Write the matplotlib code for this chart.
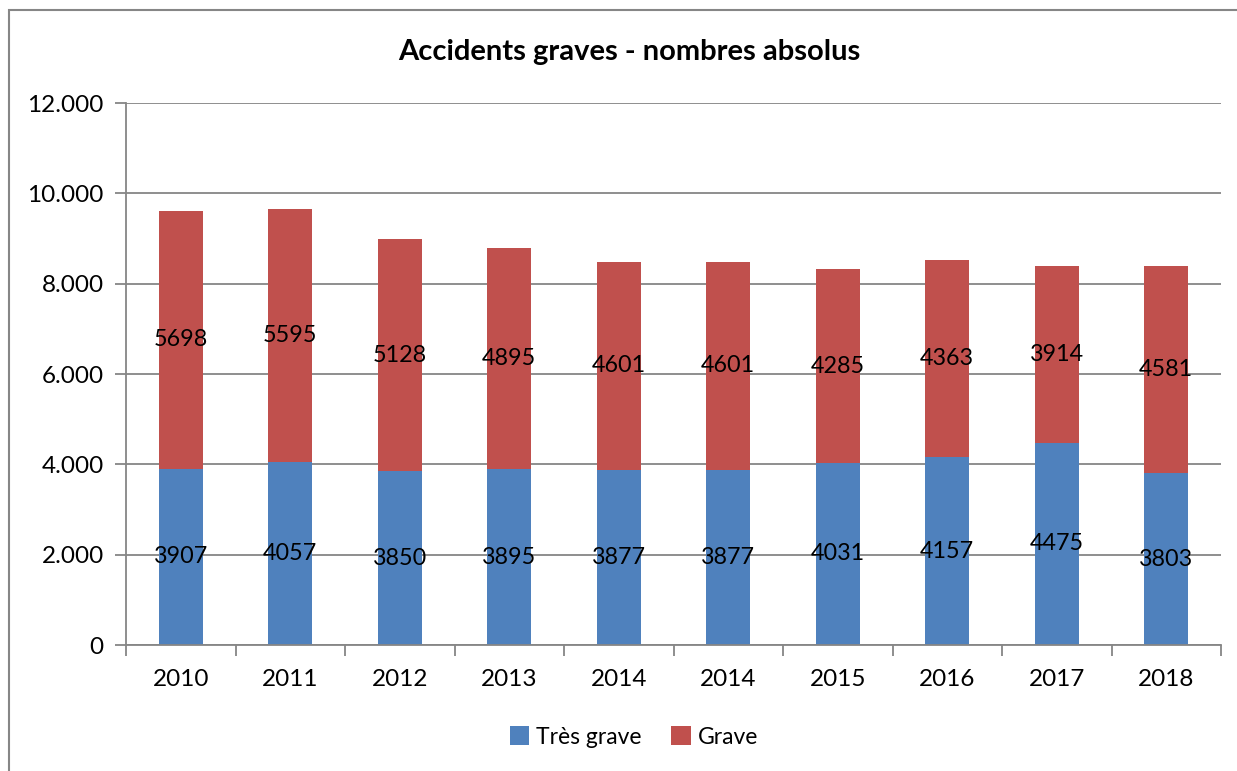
import numpy as np
import matplotlib.pyplot as plt
from matplotlib.patches import Rectangle

plt.rcParams['font.family'] = ['Lato', 'DejaVu Sans']

annees = ['2010', '2011', '2012', '2013', '2014', '2014', '2015', '2016', '2017', '2018']
tres_grave = [3907, 4057, 3850, 3895, 3877, 3877, 4031, 4157, 4475, 3803]
grave = [5698, 5595, 5128, 4895, 4601, 4601, 4285, 4363, 3914, 4581]

bleu = '#4F81BD'
rouge = '#C0504D'
gris = '#868686'

W, H = 1237, 771
fig = plt.figure(figsize=(W / 100, H / 100), dpi=100)
ax = fig.add_axes([126 / W, 1 - 645 / H, (1221 - 126) / W, (645 - 103) / H])

x = np.arange(len(annees))
b1 = ax.bar(x, tres_grave, width=0.4, color=bleu, label='Très grave', zorder=2)
b2 = ax.bar(x, grave, width=0.4, bottom=tres_grave, color=rouge, label='Grave', zorder=2)

for bars in (b1, b2):
    ax.bar_label(bars, label_type='center', fontsize=16.8, color='black', zorder=3)

ax.set_xlim(-0.5, len(annees) - 0.5)
ax.set_ylim(0, 12000)
ax.set_yticks(range(0, 12001, 2000))
ax.set_yticklabels(['0', '2.000', '4.000', '6.000', '8.000', '10.000', '12.000'])
ax.set_xticks(x)
ax.set_xticklabels(annees)
ax.set_xticks(np.arange(-0.5, len(annees), 1), minor=True)

ax.yaxis.grid(True, color=gris, linewidth=1.3, zorder=1)
ax.set_axisbelow(True)
for s in ['top', 'right']:
    ax.spines[s].set_visible(False)
for s in ['left', 'bottom']:
    ax.spines[s].set_color(gris)
    ax.spines[s].set_linewidth(1.3)

ax.tick_params(axis='y', length=8, width=1.3, color=gris, labelsize=17.5, pad=8)
ax.tick_params(axis='x', which='major', length=0, labelsize=17.5, pad=17)
ax.tick_params(axis='x', which='minor', length=8, width=1.3, color=gris)

fig.text(629 / W, 1 - 52 / H, 'Accidents graves - nombres absolus',
         ha='center', va='center', fontsize=21, fontweight='bold')

fig.legend(handles=[b1, b2], loc='center', bbox_to_anchor=(634 / W, 1 - 737 / H),
           ncol=2, frameon=False, fontsize=16.5, handlelength=0.85, handleheight=0.85,
           handletextpad=0.3, columnspacing=1.3)

fig.patches.append(Rectangle((9 / W, -0.1), 1.2, 1 - 10 / H + 0.1,
                             transform=fig.transFigure, fill=False,
                             edgecolor=gris, linewidth=1.5))

fig.savefig('out.png', dpi=100)
